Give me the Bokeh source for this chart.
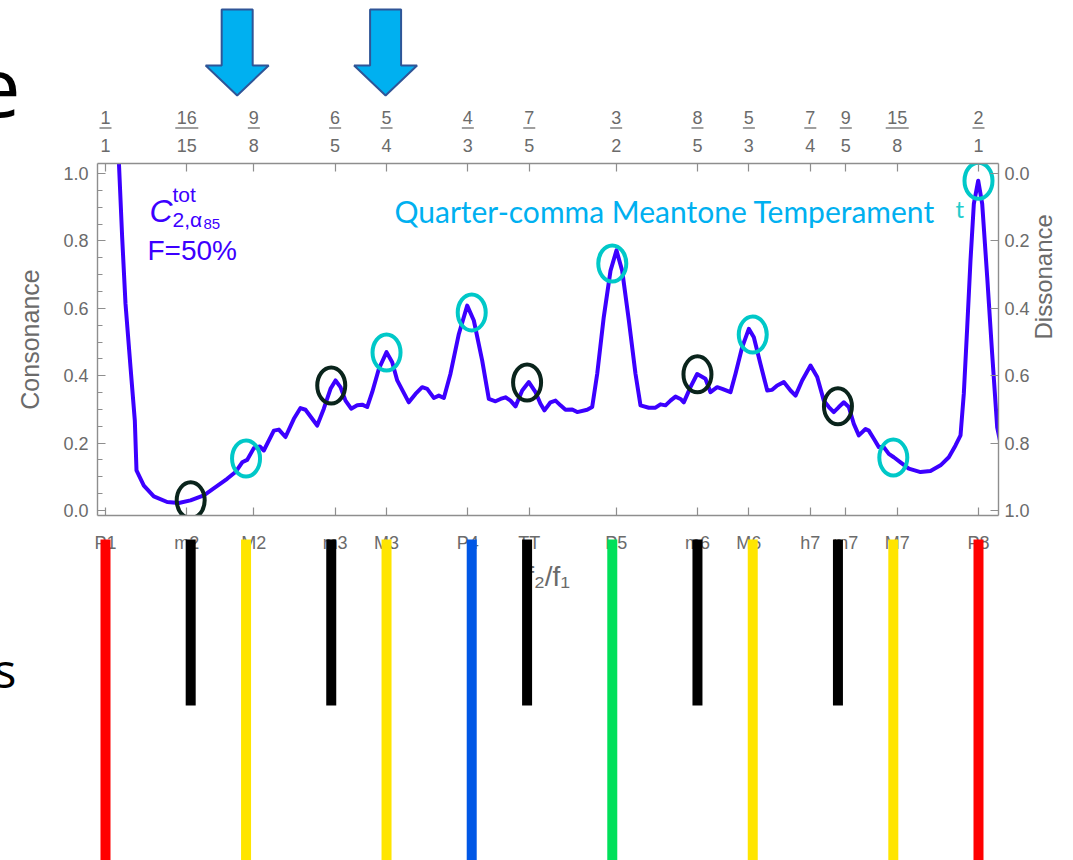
import math

from bokeh.core.properties import value
from bokeh.embed import file_html
from bokeh.models import (FixedTicker, Label, LinearAxis, PrintfTickFormatter,
                          Range1d)
from bokeh.plotting import figure
from bokeh.resources import INLINE

# Total consonance curve C_tot (F = 50 %), x in cents above the lower tone
curve_cents = [
    18.3, 22.9, 27.5, 34.4, 40.3, 42.6, 52.7, 66.4, 84.8, 100.8, 116.8, 135.2,
    151.2, 167.2, 178.7, 187.9, 194.7, 203.9, 212.1, 217.6, 231.4, 238.3, 247.4,
    258.9, 268.0, 274.9, 291.0, 300.1, 309.3, 316.2, 323.0, 329.9, 337.7, 346.0,
    352.8, 359.7, 366.6, 375.7, 386.3, 394.1, 401.0, 416.9, 426.1, 435.3, 442.2,
    451.3, 458.2, 465.1, 474.2, 485.7, 497.2, 506.3, 517.8, 526.9, 536.1, 543.0,
    549.8, 556.7, 563.6, 572.8, 581.9, 591.1, 597.9, 603.4, 611.7, 618.6, 625.4,
    632.3, 641.5, 648.4, 662.1, 669.0, 675.9, 684.9, 694.2, 702.4, 710.2, 719.4,
    728.5, 735.4, 746.8, 756.0, 762.9, 769.8, 776.6, 783.5, 790.4, 794.9, 804.1,
    813.3, 824.7, 831.6, 840.8, 847.7, 859.1, 866.0, 875.2, 884.3, 891.2, 900.3,
    909.6, 916.4, 923.3, 932.4, 941.6, 948.5, 957.6, 969.1, 978.3, 987.4, 994.3,
    1001.1, 1008.0, 1014.9, 1021.7, 1028.6, 1035.5, 1044.7, 1049.2, 1056.1,
    1063.0, 1069.8, 1076.7, 1083.6, 1092.8, 1104.2, 1120.3, 1134.0, 1147.8,
    1159.2, 1168.4, 1175.3, 1179.8, 1184.5, 1189.0, 1193.6, 1199.6, 1205.1,
    1212.0, 1218.8, 1225.7, 1229.4,
]
curve_consonance = [
    1.039, 0.811, 0.613, 0.425, 0.267, 0.119, 0.074, 0.042, 0.025, 0.022, 0.030,
    0.045, 0.069, 0.094, 0.114, 0.143, 0.150, 0.185, 0.190, 0.178, 0.237, 0.240,
    0.218, 0.272, 0.304, 0.299, 0.252, 0.302, 0.361, 0.386, 0.366, 0.326, 0.302,
    0.312, 0.314, 0.307, 0.351, 0.420, 0.470, 0.440, 0.386, 0.321, 0.346, 0.366,
    0.361, 0.334, 0.341, 0.334, 0.406, 0.524, 0.608, 0.564, 0.445, 0.331, 0.324,
    0.331, 0.336, 0.326, 0.309, 0.356, 0.381, 0.351, 0.317, 0.297, 0.321, 0.326,
    0.312, 0.299, 0.300, 0.292, 0.299, 0.307, 0.406, 0.574, 0.712, 0.772, 0.712,
    0.564, 0.406, 0.312, 0.305, 0.305, 0.315, 0.312, 0.326, 0.338, 0.331, 0.321,
    0.366, 0.405, 0.391, 0.351, 0.366, 0.361, 0.351, 0.406, 0.485, 0.539, 0.514,
    0.435, 0.356, 0.358, 0.371, 0.381, 0.356, 0.341, 0.386, 0.430, 0.396, 0.326,
    0.307, 0.292, 0.307, 0.321, 0.307, 0.257, 0.223, 0.242, 0.237, 0.213, 0.188,
    0.188, 0.168, 0.158, 0.143, 0.124, 0.114, 0.117, 0.134, 0.158, 0.193, 0.223,
    0.346, 0.544, 0.742, 0.910, 0.979, 0.910, 0.692, 0.465, 0.247, 0.208,
]

# Just-intonation ratios on the top axis and interval names on the bottom axis
ratio_num = [1, 16, 9, 6, 5, 4, 7, 3, 8, 5, 7, 9, 15, 2]
ratio_den = [1, 15, 8, 5, 4, 3, 5, 2, 5, 3, 4, 5, 8, 1]
ratio_names = ["P1", "m2", "M2", "m3", "M3", "P4", "TT", "P5", "m6", "M6",
               "h7", "m7", "M7", "P8"]

# Quarter-comma meantone intervals (cents) and their colour keys
mt_names = ["P1", "m2", "M2", "m3", "M3", "P4", "TT", "P5", "m6", "M6", "m7",
            "M7", "P8"]
mt_cents = [0.0, 117.1, 193.2, 310.3, 386.3, 503.4, 579.5, 696.6, 813.7,
            889.7, 1006.8, 1082.9, 1200.0]
mt_colors = ["#ff0000", "#000000", "#ffe500", "#000000", "#ffe500", "#0057e6",
             "#000000", "#00e05a", "#000000", "#ffe500", "#000000", "#ffe500",
             "#ff0000"]
mt_short_bar = [False, True, False, True, False, False, True, False, True,
                False, True, False, False]

# Rings marking the curve at the meantone intervals
ring_cents = [117.1, 193.2, 310.3, 386.3, 503.4, 579.5, 696.6, 813.7, 889.7,
              1006.8, 1082.9, 1200.0]
ring_consonance = [0.030, 0.154, 0.371, 0.469, 0.588, 0.380, 0.733, 0.404,
                   0.522, 0.309, 0.157, 0.979]
ring_dark = [True, False, True, False, False, True, False, True, False, True,
             False, False]

# Intervals pointed at by the arrows
arrow_cents = [181.0, 385.0]

value_ticks = [0.0, 0.2, 0.4, 0.6, 0.8, 1.0]

W, H = 1073, 860
FL, FR, FT, FB = 97, 998, 163, 515
X0, X1 = -11.0, 1227.5
Y0, Y1 = -0.015, 1.03
KX = (X1 - X0) / (FR - FL)   # cents per pixel
KY = (Y1 - Y0) / (FB - FT)   # consonance per pixel

GRAY = "#6b6b6b"
AXIS = "#8e8e8e"
CURVE = "#3c00ff"
CYAN = "#00c8c8"
DARK = "#0a241c"
SKY = "#00b0f0"
FONT = "Liberation Sans"


def px_x(px):
    return X0 + (px - FL) * KX


def px_y(py):
    return Y0 + (FB - py) * KY


p = figure(width=W, height=H, x_range=Range1d(X0, X1), y_range=Range1d(Y0, Y1),
           output_backend="svg", toolbar_location=None,
           min_border_left=FL, min_border_right=W - FR,
           min_border_top=FT, min_border_bottom=H - FB)
p.xgrid.visible = False
p.ygrid.visible = False
p.outline_line_color = None
p.background_fill_color = "white"
p.border_fill_color = "white"


def style(ax, tick_len=8):
    ax.axis_line_color = AXIS
    ax.axis_line_width = 1.4
    ax.major_tick_line_color = AXIS
    ax.major_tick_line_width = 1.2
    ax.major_tick_in = tick_len
    ax.major_tick_out = 0
    ax.minor_tick_line_color = AXIS
    ax.minor_tick_in = 5
    ax.minor_tick_out = 0
    ax.major_label_text_color = GRAY
    ax.major_label_text_font = FONT
    ax.major_label_text_font_size = "18px"
    ax.axis_label_text_color = GRAY
    ax.axis_label_text_font = FONT
    ax.axis_label_text_font_style = "normal"
    ax.axis_label_text_font_size = "25px"


tick_cents = [round(1200 * math.log2(n / d), 4) for n, d in zip(ratio_num, ratio_den)]

# bottom: interval names
xb = p.xaxis[0]
style(xb)
xb.ticker = FixedTicker(ticks=tick_cents)
xb.major_label_overrides = dict(zip(tick_cents, ratio_names))
xb.major_label_standoff = 17
xb.axis_label = "f\u2082/f\u2081"
xb.axis_label_text_font_size = "28px"
xb.axis_label_standoff = 5

# top: ratios written as fractions (denominator axis next to the frame)
den_axis = LinearAxis(ticker=FixedTicker(ticks=tick_cents),
                      major_label_overrides={t: str(d) for t, d in zip(tick_cents, ratio_den)})
style(den_axis)
den_axis.major_label_standoff = 12
p.add_layout(den_axis, "above")

num_axis = LinearAxis(ticker=FixedTicker(ticks=tick_cents),
                      major_label_overrides={t: str(n) for t, n in zip(tick_cents, ratio_num)})
style(num_axis)
num_axis.axis_line_color = None
num_axis.major_tick_line_color = None
num_axis.major_label_standoff = 12
p.add_layout(num_axis, "above")

# fraction bars between numerators and denominators
bar_half = [(5.0 + 5.5 * (len(str(n)) - 1) + 1) * KX for n in ratio_num]
p.segment(x0=[t - h for t, h in zip(tick_cents, bar_half)],
          x1=[t + h for t, h in zip(tick_cents, bar_half)],
          y0=[px_y(127.5)] * len(tick_cents), y1=[px_y(127.5)] * len(tick_cents),
          line_color=GRAY, line_width=1.3, level="overlay")

# left: consonance
yl = p.yaxis[0]
style(yl)
yl.ticker = FixedTicker(ticks=value_ticks,
                        minor_ticks=[k / 20 for k in range(21) if k % 4])
yl.formatter = PrintfTickFormatter(format="%.1f")
yl.major_label_standoff = 9
yl.axis_label = "Consonance"
yl.axis_label_standoff = 16

# right: dissonance = 1 - consonance
p.extra_y_ranges = {"dissonance": Range1d(1 - Y0, 1 - Y1)}
yr = LinearAxis(y_range_name="dissonance", ticker=FixedTicker(ticks=value_ticks),
                formatter=PrintfTickFormatter(format="%.1f"))
style(yr)
yr.major_label_standoff = 6
yr.axis_label = "Dissonance"
yr.axis_label_text_font_size = "24px"
yr.axis_label_standoff = 11
try:
    yr.axis_label_orientation = math.pi / 2
except ValueError:
    pass
p.add_layout(yr, "right")

# the consonance curve and the rings on it
p.line(curve_cents, curve_consonance, line_width=4, line_color=CURVE,
       line_join="round", line_cap="round")
p.ellipse(x=ring_cents, y=ring_consonance, width=28, height=36,
          width_units="screen", height_units="screen", fill_color=None,
          line_color=[DARK if d else CYAN for d in ring_dark], line_width=4)

# curve legend
for txt, px, py, size, style_ in [("C", 149, 210, "32px", "italic"),
                                  ("tot", 172, 194, "21px", "normal"),
                                  ("2,\u03b1", 172, 219, "21px", "normal"),
                                  ("85", 203, 223, "15px", "normal"),
                                  ("F=50%", 147, 250, "28px", "normal")]:
    p.add_layout(Label(x=px_x(px), y=px_y(py), text=txt, text_color=CURVE,
                       text_font=FONT, text_font_size=size, text_font_style=style_,
                       text_baseline="alphabetic"))

p.add_layout(Label(x=px_x(394), y=px_y(210), text="Quarter-comma Meantone Temperament",
                   text_color=SKY, text_font="Lato", text_font_size="30px",
                   text_baseline="alphabetic"))
p.add_layout(Label(x=px_x(955), y=px_y(208), text="t", text_color="#22cccc",
                   text_font="Lato", text_font_size="24px", text_baseline="alphabetic"))

# colour-keyed meantone bars below the axis
p.quad(left=[c - 5 * KX for c in mt_cents], right=[c + 5 * KX for c in mt_cents],
       top=[px_y(539)] * len(mt_cents),
       bottom=[px_y(705 if s else H + 10) for s in mt_short_bar],
       fill_color=mt_colors, line_color=None, level="overlay")

# block arrows above the top axis
for c in arrow_cents:
    sh, hh = 15.5 * KX, 31.5 * KX
    top, base, tip = px_y(9), px_y(65), px_y(95)
    p.patch([c - sh, c + sh, c + sh, c + hh, c, c - hh, c - sh, c - sh],
            [top, top, base, base, tip, base, base, top],
            fill_color=SKY, line_color="#2f5597", line_width=2, level="overlay")

# slide text around the chart
p.text(x=[px_x(-26), px_x(-7)], y=[px_y(87), px_y(669)], text=["e", "s"],
       text_color="black", text_font=value("Open Sans"),
       text_font_size=["82px", "48px"], text_baseline="alphabetic",
       level="overlay")

open("out.html", "w").write(file_html(p, INLINE))
